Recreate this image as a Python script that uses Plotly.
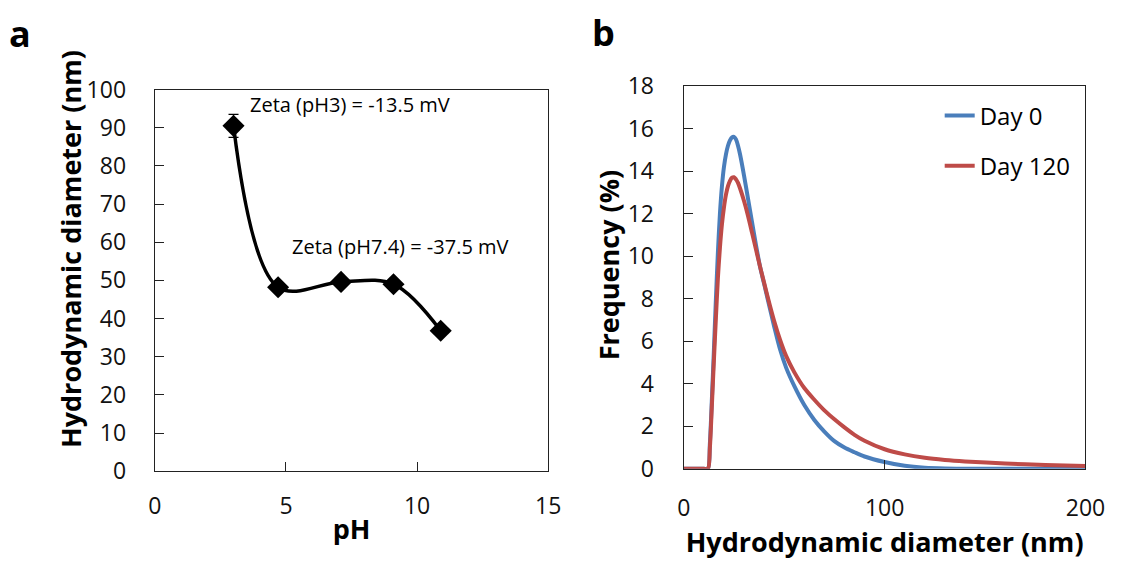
import plotly.graph_objects as go

# ---- Panel a data ----
ph = [3.0, 4.7, 7.1, 9.1, 10.9]
diam = [90.5, 48.2, 49.6, 49.0, 36.8]
diam_err = [3.0, 0, 0, 0, 0]

# ---- Panel b data ----
size_nm = [0, 5, 10, 12, 13, 14, 15, 16, 17, 18, 19, 20, 21, 22, 23, 24, 25, 26, 27, 28,
           30, 32, 34, 36, 38, 40, 42, 45, 48, 51, 55, 60, 65, 70, 75, 80, 85, 90, 100,
           110, 120, 130, 140, 160, 180, 200]
day0 = [0, 0, 0, 0, 1.2, 3.3, 5.6, 8.0, 10.2, 12.0, 13.3, 14.2, 14.8, 15.2, 15.45, 15.6, 15.62, 15.5, 15.2, 14.8,
        13.8, 12.7, 11.6, 10.5, 9.5, 8.7, 7.9, 6.7, 5.6, 4.75, 3.9, 3.0, 2.3, 1.75, 1.3, 1.0, 0.78, 0.58, 0.32,
        0.14, 0.05, 0.015, 0.0, 0, 0, 0]
day120 = [0, 0, 0, 0, 1.0, 3.0, 5.1, 7.1, 9.0, 10.4, 11.5, 12.3, 12.9, 13.3, 13.55, 13.7, 13.72, 13.62, 13.45, 13.2,
          12.6, 11.9, 11.1, 10.3, 9.5, 8.75, 8.0, 6.95, 6.05, 5.3, 4.55, 3.8, 3.25, 2.75, 2.33, 1.95, 1.6, 1.32, 0.92,
          0.68, 0.52, 0.42, 0.35, 0.25, 0.18, 0.13]

FONT = "Open Sans"
AX = "#222222"

fig = go.Figure()

fig.add_trace(go.Scatter(
    x=ph, y=diam, mode="lines+markers",
    line=dict(color="black", width=3.5, shape="spline", smoothing=1.0),
    marker=dict(symbol="diamond", size=17, color="black"),
    error_y=dict(type="data", array=diam_err, visible=True, color="black", thickness=1.2, width=5),
    showlegend=False, xaxis="x", yaxis="y"))

fig.add_trace(go.Scatter(
    x=size_nm, y=day0, mode="lines", name="Day 0",
    line=dict(color="#4A7EBB", width=4, shape="spline", smoothing=0.8),
    xaxis="x2", yaxis="y2", legendgroup="g1"))
fig.add_trace(go.Scatter(
    x=size_nm, y=day120, mode="lines", name="Day 120",
    line=dict(color="#BE4B48", width=4, shape="spline", smoothing=0.8),
    xaxis="x2", yaxis="y2", legendgroup="g2"))

axis_common = dict(showline=True, linecolor=AX, linewidth=1.4, mirror=True,
                   ticks="inside", ticklen=9, tickcolor=AX, tickwidth=1.2,
                   showgrid=False, zeroline=False,
                   tickfont=dict(family=FONT, size=23, color="#111111"))

TITLE_FONT = dict(family=FONT, size=27, color="black")

fig.update_layout(
    width=1123, height=566,
    margin=dict(l=0, r=0, t=0, b=0),
    paper_bgcolor="white", plot_bgcolor="white",
    font=dict(family=FONT, color="black"),
    xaxis=dict(domain=[0.1349, 0.4938], range=[0, 15], tickvals=[0, 5, 10, 15],
               ticklabelstandoff=14,
               title=dict(text="<b>pH</b>", font=TITLE_FONT, standoff=0),
               **axis_common),
    yaxis=dict(domain=[0.1495, 0.864], range=[0, 100], tickvals=list(range(0, 101, 10)),
               ticklabelstandoff=23, **axis_common),
    xaxis2=dict(domain=[0.6175, 0.984], range=[0, 200], tickvals=[0, 100, 200],
                ticklabelstandoff=18, anchor="y2",
                title=dict(text="<b>Hydrodynamic diameter (nm)</b>", font=TITLE_FONT, standoff=0),
                **axis_common),
    yaxis2=dict(domain=[0.1539, 0.8703], range=[0, 18], tickvals=list(range(0, 19, 2)),
                ticklabelstandoff=24, anchor="x2", **axis_common),
    legend=dict(x=0.851, y=0.857, xanchor="left", yanchor="top",
                font=dict(family=FONT, size=24, color="black"),
                bgcolor="rgba(0,0,0,0)", tracegroupgap=16, itemwidth=30),
    annotations=[
        dict(text="<b>Hydrodynamic diameter (nm)</b>", x=0.0574, y=0.5654, xref="paper", yref="paper",
             textangle=-90, xanchor="center", yanchor="middle", showarrow=False, font=TITLE_FONT),
        dict(text="<b>Frequency (%)</b>", x=0.5485, y=0.5353, xref="paper", yref="paper",
             textangle=-90, xanchor="center", yanchor="middle", showarrow=False, font=TITLE_FONT),
        dict(text="Zeta (pH3) = -13.5 mV", x=3.57, y=96, xref="x", yref="y",
             xanchor="left", yanchor="middle", showarrow=False,
             font=dict(family=FONT, size=20, color="black")),
        dict(text="Zeta (pH7.4) = -37.5 mV", x=5.15, y=58.9, xref="x", yref="y",
             xanchor="left", yanchor="middle", showarrow=False,
             font=dict(family=FONT, size=20, color="black")),
        dict(text="<b>a</b>", x=0.0, y=0.97, xref="paper", yref="paper",
             xanchor="left", yanchor="middle", showarrow=False,
             font=dict(family=FONT, size=36, color="black")),
        dict(text="<b>b</b>", x=0.532, y=0.9717, xref="paper", yref="paper",
             xanchor="left", yanchor="middle", showarrow=False,
             font=dict(family=FONT, size=36, color="black")),
    ],
)

fig.write_html("out.html", config={"displayModeBar": False},
               post_script="document.body.style.margin='0';")
